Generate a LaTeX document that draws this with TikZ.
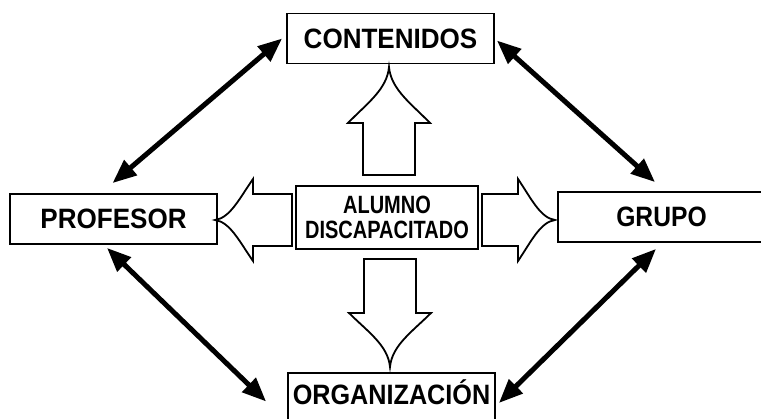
\documentclass[tikz,border=0pt]{standalone}
\usepackage{fontspec}
\setmainfont{Liberation Sans}
\usetikzlibrary{arrows.meta}
\begin{document}
\begin{tikzpicture}
[x=1pt,y=-1pt,
  boxdecorate/.style={shape=rectangle,draw,line width=1.8pt,inner sep=0pt,
    minimum width=207pt,minimum height=50pt,font=\fontsize{28}{28}\selectfont\bfseries},%
  linedecorate/.style={{Triangle[length=24pt,width=19pt]}-{Triangle[length=24pt,width=19pt]},line width=5pt},%
  hollowdecorate/.style={draw,line width=1.8pt,line join=miter}]
\useasboundingbox (0,0) rectangle (761,419);
\clip (0,0) rectangle (761,419);
%% nodes or boxes
\foreach \nodename/\x/\y/\sc/\txt in {cont/390.5/38.5/0.93/CONTENIDOS, prof/113.5/219/0.93/PROFESOR,
  grupo/661.5/217/0.88/GRUPO} {
  \node (\nodename) at (\x,\y) [boxdecorate] {\scalebox{\sc}[1]{\txt}};
}
\node (org) at (391.5,401.5) [boxdecorate,minimum height=57pt,text height=32pt,text depth=25pt]
  {\scalebox{0.9}[1]{ORGANIZACIÓN}};
\node (alumno) at (387,217.5) [draw,line width=1.8pt,inner sep=0pt,minimum width=182pt,
  minimum height=63pt,align=center,font=\fontsize{25}{25}\selectfont\bfseries]
  {\scalebox{0.8}[1]{ALUMNO}\\\scalebox{0.8}[1]{DISCAPACITADO}};
%% hollow arrows
\foreach \ang/\x/\y/\shaft/\head in {90/389/175/52/56, -90/390/259/54/54,
  180/292/220/39/38, 0/482/220/36/37} {
  \draw[hollowdecorate,shift={(\x,\y)},rotate=\ang] (0,-26) -- (\shaft,-26) -- (\shaft,-41)
    .. controls (\shaft+0.35*\head,-22) and (\shaft+0.6*\head,-2) .. (\shaft+\head,0)
    .. controls (\shaft+0.6*\head,2) and (\shaft+0.35*\head,22) .. (\shaft,41)
    -- (\shaft,26) -- (0,26) -- cycle;
}
%% edges or lines
\draw[linedecorate] ([xshift=-4pt]cont.west) -- ([xshift=-1pt,yshift=10pt]prof.north);
\draw[linedecorate] ([xshift=2pt,yshift=-2pt]cont.east) -- ([xshift=-6.5pt,yshift=9pt]grupo.north);
\draw[linedecorate] ([xshift=-6.5pt,yshift=-3pt]prof.south) -- ([xshift=-21pt]org.west);
\draw[linedecorate] ([xshift=-5.5pt,yshift=-6pt]grupo.south) -- ([xshift=3pt,yshift=-1.5pt]org.east);
\end{tikzpicture}
\end{document}
